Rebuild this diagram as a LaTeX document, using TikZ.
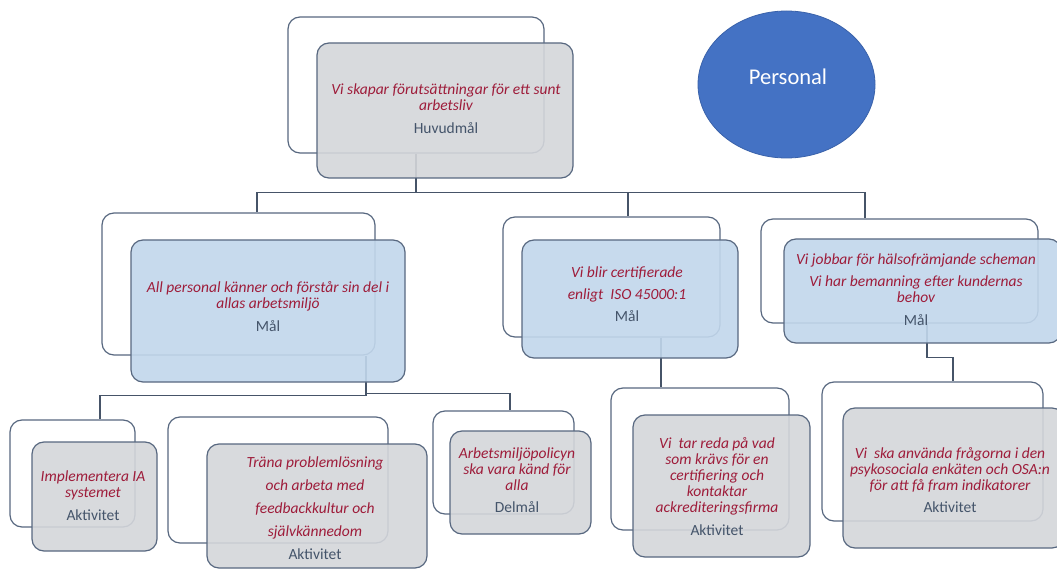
\documentclass[tikz,border=0pt]{standalone}
\usepackage{fontspec}
\setmainfont{Carlito}
\usetikzlibrary{shapes.geometric,calc}
\definecolor{bord}{RGB}{88,104,128}
\definecolor{cline}{RGB}{70,84,104}
\definecolor{gfill}{RGB}{212,214,218}
\definecolor{bfill}{RGB}{194,215,236}
\definecolor{tred}{RGB}{158,28,58}
\definecolor{lab}{RGB}{68,84,106}
\definecolor{circ}{RGB}{68,114,196}
\definecolor{circb}{RGB}{58,98,170}
\newcommand{\rt}[1]{\textcolor{tred}{\itshape #1}}
\newcommand{\lb}[1]{\textcolor{lab}{#1}}
\tikzset{
  backbox/.style={draw=bord, line width=1.2pt, rounded corners=12pt, fill=white, inner sep=0pt},
  graybox/.style={draw=bord, line width=1.2pt, rounded corners=12pt, fill=gfill, fill opacity=0.9, inner sep=0pt},
  bluebox/.style={draw=bord, line width=1.2pt, rounded corners=12pt, fill=bfill, fill opacity=0.9, inner sep=0pt},
  conn/.style={draw=cline, line width=1.1pt},
  txt/.style={align=center, font=\fontsize{15.5}{16}\selectfont, inner sep=0pt},
}
\begin{document}
\begin{tikzpicture}[x=1pt,y=-1pt]
\useasboundingbox (0,0) rectangle (1057,569);
\clip (0,0) rectangle (1057,569);
\fill[white] (0,0) rectangle (1057,569);

% back frames
\node[backbox, minimum width=256, minimum height=136] (hb) at (416,85) {};
\node[backbox, minimum width=273, minimum height=142] (lb) at (238.5,284) {};
\node[backbox, minimum width=217, minimum height=120] (mb) at (611.5,277) {};
\node[backbox, minimum width=277, minimum height=104] (rb) at (899.5,271) {};
\node[backbox, minimum width=125, minimum height=107] (ib) at (72.5,473.5) {};
\node[backbox, minimum width=220, minimum height=126] (tb) at (278,480) {};
\node[backbox, minimum width=141, minimum height=103] (ab) at (503.5,462.5) {};
\node[backbox, minimum width=178, minimum height=142] (vb) at (700,459) {};
\node[backbox, minimum width=221, minimum height=139] (sb) at (932.5,451.5) {};

% connectors
\draw[conn] (hb.south) -- ++(0,39) coordinate (j0);
\draw[conn] (j0) -| ([xshift=18.5pt]lb.north);
\draw[conn] (j0) -| ([xshift=16.5pt]mb.north);
\draw[conn] (j0) -| ([xshift=-34.5pt]rb.north);
\draw[conn] ([xshift=127.5pt]lb.south) -- ++(0,40) -| ([xshift=27.5pt]ib.north);
\draw[conn] ([xshift=127.5pt]lb.south) -- ++(0,38) -| ([xshift=6.5pt]ab.north);
\draw[conn] ([xshift=49.5pt]mb.south) -- ([xshift=-39pt]vb.north);
\draw[conn] ([xshift=27.5pt]rb.south) -- ++(0,34) -| ([xshift=20.5pt]sb.north);

% front boxes
\node[graybox, minimum width=256, minimum height=135] (hf) at (445,110.5) {};
\node[bluebox, minimum width=274, minimum height=142] (lf) at (268,311) {};
\node[bluebox, minimum width=216, minimum height=118] (mf) at (630,299) {};
\node[bluebox, minimum width=277, minimum height=104] (rf) at (922.5,291) {};
\node[graybox, minimum width=125, minimum height=109] (if) at (94.5,496.5) {};
\node[graybox, minimum width=220, minimum height=124] (tf) at (317,506) {};
\node[graybox, minimum width=141, minimum height=103] (af) at (520.5,482.5) {};
\node[graybox, minimum width=177, minimum height=142] (vf) at (721.5,486) {};
\node[graybox, minimum width=221, minimum height=140] (sf) at (953.5,478) {};

% texts
\node[txt] (ht) at (446,109) {\rt{Vi skapar förutsättningar för ett sunt}\\\rt{arbetsliv}\\[7pt]\lb{Huvudmål}};
\node[txt] (lt) at (268,307) {\rt{All personal känner och förstår sin del i}\\\rt{allas arbetsmiljö}\\[7pt]\lb{Mål}};
\node[txt] (mt) at (627,294.5) {\rt{Vi blir certifierade}\\[6pt]\rt{enligt\ \ ISO 45000:1}\\[6pt]\lb{Mål}};
\node[txt] (rt) at (916,289.5) {\rt{Vi jobbar för hälsofrämjande scheman}\\[6pt]\rt{Vi har bemanning efter kundernas}\\\rt{behov}\\[7pt]\lb{Mål}};
\node[txt] (it) at (93,496) {\rt{Implementera IA}\\\rt{systemet}\\[7pt]\lb{Aktivitet}};
\node[txt] (tt) at (315,508.5) {\rt{Träna problemlösning}\\[7pt]\rt{och arbeta med}\\[7pt]\rt{feedbackkultur och}\\[7pt]\rt{självkännedom}\\[7pt]\lb{Aktivitet}};
\node[txt] (at) at (517,480.5) {\rt{Arbetsmiljöpolicyn}\\\rt{ska vara känd för}\\\rt{alla}\\[6pt]\lb{Delmål}};
\node[txt] (vt) at (717,486.5) {\rt{Vi\ \ tar reda på vad}\\\rt{som krävs för en}\\\rt{certifiering och}\\\rt{kontaktar}\\\rt{ackrediteringsfirma}\\[7pt]\lb{Aktivitet}};
\node[txt] (st) at (950,480.5) {\rt{Vi\ \ ska använda frågorna i den}\\\rt{psykosociala enkäten och OSA:n}\\\rt{för att få fram indikatorer}\\[6pt]\lb{Aktivitet}};

% circle
\node[ellipse, draw=circb, line width=0.8pt, fill=circ, minimum width=177, minimum height=147, inner sep=0pt] (pc) at (786.5,84.5) {};
\node[font=\fontsize{22.5}{26}\selectfont, text=white, inner sep=0pt] (pl) at (788,77) {Personal};
\end{tikzpicture}
\end{document}
